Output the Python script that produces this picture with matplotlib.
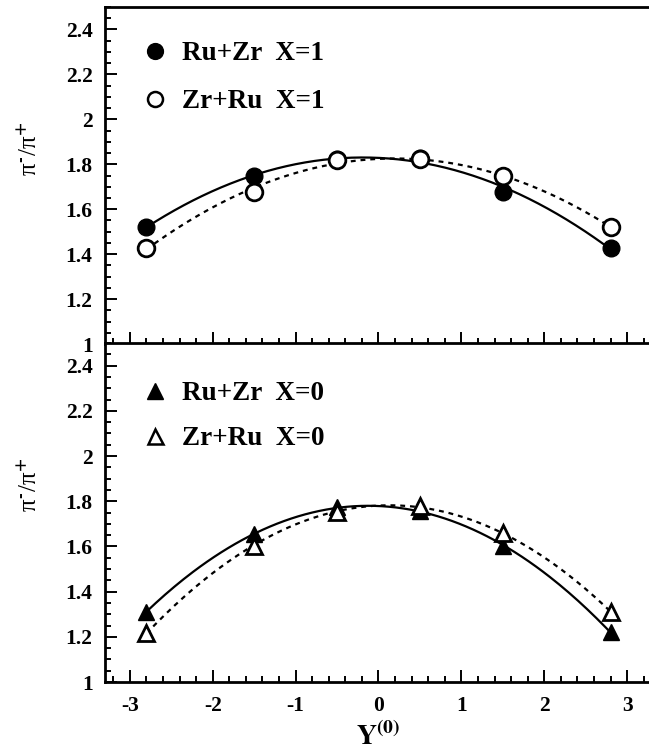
import numpy as np
import matplotlib
matplotlib.use("Agg")
import matplotlib.pyplot as plt
from matplotlib.lines import Line2D
from matplotlib.ticker import MultipleLocator

plt.rcParams['font.family'] = ['Liberation Serif', 'DejaVu Serif']
plt.rcParams['font.weight'] = 'bold'
plt.rcParams['mathtext.fontset'] = 'stix'

# Data
y0 = [-2.8, -1.5, -0.5, 0.5, 1.5, 2.8]
ruzr_x1 = [1.52, 1.748, 1.825, 1.828, 1.678, 1.428]
zrru_x1 = [1.428, 1.675, 1.820, 1.822, 1.748, 1.52]
ruzr_x0 = [1.31, 1.655, 1.775, 1.755, 1.600, 1.222]
zrru_x0 = [1.218, 1.600, 1.753, 1.780, 1.658, 1.310]
err = 0.015

labels_top = ["Ru+Zr  X=1", "Zr+Ru  X=1"]
labels_bot = ["Ru+Zr  X=0", "Zr+Ru  X=0"]

fig = plt.figure(figsize=(6.49, 7.55), dpi=100)
W, H = 649, 755
left = 105 / W
width = (652 - 105) / W
ax1 = fig.add_axes([left, 1 - 344 / H, width, (344 - 7) / H])
ax2 = fig.add_axes([left, 1 - 682 / H, width, (682 - 343) / H])

xs = np.linspace(-2.8, 2.8, 200)

def panel(ax, filled, opened, marker, labels, ms, leg_y, spacing):
    for data, ls in [(filled, '-'), (opened, (0, (2.2, 2.2)))]:
        c = np.polyfit(y0, data, 2)
        ax.plot(xs, np.polyval(c, xs), color='black', lw=1.6, ls=ls, zorder=2)
    ax.errorbar(y0, opened, yerr=err, fmt=marker, ms=ms, mfc='white', mec='black',
                mew=2.0, ecolor='black', elinewidth=1.2, capsize=0, zorder=4)
    ax.errorbar(y0, filled, yerr=err, fmt=marker, ms=ms, mfc='black', mec='black',
                mew=1.0, ecolor='black', elinewidth=1.2, capsize=0, zorder=3)
    handles = [Line2D([], [], marker=marker, ls='none', ms=ms * 0.95, mfc='black', mec='black'),
               Line2D([], [], marker=marker, ls='none', ms=ms * 0.9, mfc='white', mec='black', mew=1.8)]
    ax.legend(handles, labels, loc='upper left', bbox_to_anchor=(0.047, leg_y),
              borderaxespad=0, frameon=False, handlelength=1.0, handletextpad=0.5,
              labelspacing=spacing,
              prop={'family': 'Liberation Serif', 'weight': 'bold', 'size': 19.5})
    ax.set_xlim(-3.3, 3.3)
    ax.set_ylim(1.0, 2.5)
    ax.xaxis.set_major_locator(MultipleLocator(1))
    ax.xaxis.set_minor_locator(MultipleLocator(0.2))
    ax.yaxis.set_major_locator(MultipleLocator(0.2))
    ax.yaxis.set_minor_locator(MultipleLocator(0.05))
    ax.tick_params(which='both', direction='in', width=1.4, top=False, right=False)
    ax.tick_params(which='major', length=8.5)
    ax.tick_params(which='minor', length=4.3)
    ax.tick_params(axis='both', labelsize=15.5, pad=9)
    ax.set_yticks(np.arange(1.0, 2.41, 0.2))
    ax.set_yticklabels(['1', '1.2', '1.4', '1.6', '1.8', '2', '2.2', '2.4'])
    for s in ['left', 'bottom', 'top']:
        ax.spines[s].set_linewidth(2.0)
    ax.spines['right'].set_visible(False)
    ax.set_ylabel('π$^{\\text{-}}$/π$^{+}$', fontsize=18, fontweight='normal')
    ax.yaxis.set_label_coords(-0.116, 0.58)

panel(ax1, ruzr_x1, zrru_x1, 'o', labels_top, 12, 0.93, 0.84)
panel(ax2, ruzr_x0, zrru_x0, '^', labels_bot, 12, 0.919, 0.73)

ax1.tick_params(axis='x', labelbottom=False)
ax2.set_xticks([-3, -2, -1, 0, 1, 2, 3])
ax2.set_xticklabels(['-3', '-2', '-1', '0', '1', '2', '3'])
ax2.tick_params(axis='x', pad=10)
ax2.set_xlabel(r'$\mathbf{Y^{(0)}}$', fontsize=20, labelpad=5)

fig.savefig('out.png', dpi=100)
